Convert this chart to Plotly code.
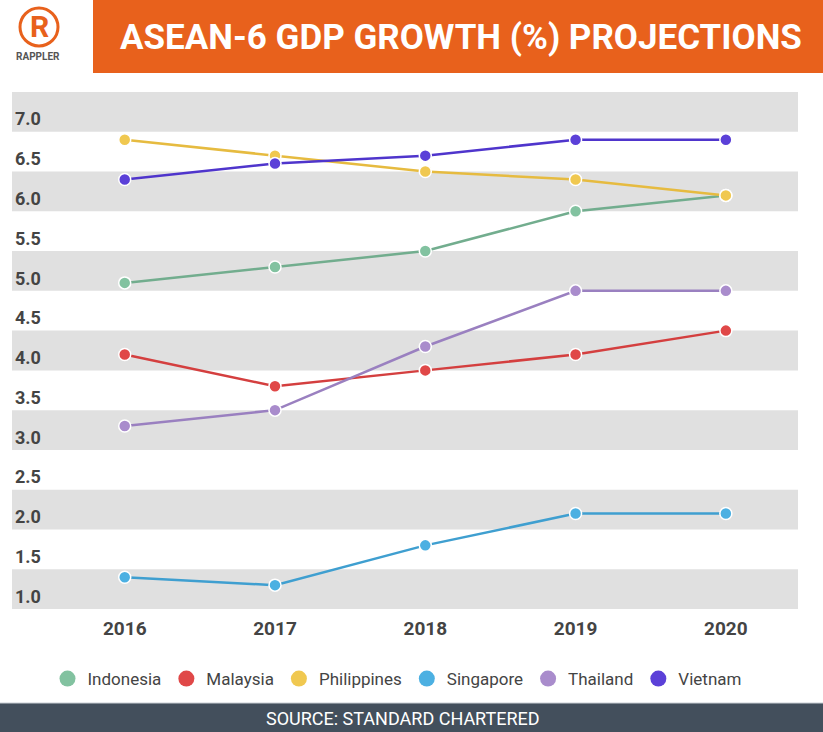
import plotly.graph_objects as go

years = ["2016", "2017", "2018", "2019", "2020"]
indonesia = [5.1, 5.3, 5.5, 6.0, 6.2]
malaysia = [4.2, 3.8, 4.0, 4.2, 4.5]
philippines = [6.9, 6.7, 6.5, 6.4, 6.2]
singapore = [1.4, 1.3, 1.8, 2.2, 2.2]
thailand = [3.3, 3.5, 4.3, 5.0, 5.0]
vietnam = [6.4, 6.6, 6.7, 6.9, 6.9]
y_ticks = [1.0, 1.5, 2.0, 2.5, 3.0, 3.5, 4.0, 4.5, 5.0, 5.5, 6.0, 6.5, 7.0]
y_labels = ["1.0", "1.5", "2.0", "2.5", "3.0", "3.5", "4.0", "4.5", "5.0", "5.5", "6.0", "6.5", "7.0"]

series = [
    ("Indonesia", indonesia, "#82c2a0", "#72ad8e"),
    ("Malaysia", malaysia, "#e04848", "#d43f3f"),
    ("Philippines", philippines, "#f0c850", "#e6bb40"),
    ("Singapore", singapore, "#4cb0e2", "#3f9fd0"),
    ("Thailand", thailand, "#a98ccc", "#9a80c0"),
    ("Vietnam", vietnam, "#5b40d8", "#4f35cc"),
]

W, H = 823, 732
L, R, T, B = 12, 25, 92, 123
PW, PH = W - L - R, H - T - B


def px(x):
    return (x - L) / PW


def py(y):
    return (H - B - y) / PH


fig = go.Figure()
for name, vals, mcol, lcol in series:
    fig.add_trace(go.Scatter(
        x=years, y=vals, mode="lines+markers", name=name, showlegend=False,
        line=dict(color=lcol, width=2.5),
        marker=dict(size=12, color=mcol, line=dict(color="white", width=1.5)),
    ))
for name, vals, mcol, lcol in series:
    fig.add_trace(go.Scatter(
        x=[None], y=[None], mode="markers", name=name, showlegend=True,
        marker=dict(size=18, color=mcol),
    ))

shapes = []
# grey bands
k = 1.0
while k < 7.5:
    shapes.append(dict(type="rect", xref="paper", yref="y", x0=0, x1=1, y0=k, y1=k + 0.5,
                       fillcolor="#e0e0e0", line=dict(width=0), layer="below"))
    k += 1.0
# header orange box
shapes.append(dict(type="rect", xref="paper", yref="paper", x0=px(93), x1=px(823), y0=py(73), y1=py(0),
                   fillcolor="#e8611c", line=dict(width=0)))
# footer bar
shapes.append(dict(type="rect", xref="paper", yref="paper", x0=px(0), x1=px(823), y0=py(732), y1=py(703),
                   fillcolor="#434f5c", line=dict(width=0)))
shapes.append(dict(type="line", xref="paper", yref="paper", x0=px(0), x1=px(823), y0=py(703), y1=py(703),
                   line=dict(color="#c9cfd4", width=1)))
# logo circle
shapes.append(dict(type="circle", xref="paper", yref="paper", x0=px(20), x1=px(58), y0=py(46), y1=py(8),
                   line=dict(color="#e8611c", width=3), fillcolor="rgba(0,0,0,0)"))

annotations = [
    dict(text="<b>ASEAN-6 GDP GROWTH (%) PROJECTIONS</b>", xref="paper", yref="paper",
         x=px(461), y=py(38), xanchor="center", yanchor="middle", showarrow=False,
         font=dict(family="Roboto, sans-serif", size=35, color="white")),
    dict(text="<b>R</b>", xref="paper", yref="paper", x=px(39), y=py(27), xanchor="center", yanchor="middle",
         showarrow=False, font=dict(family="Roboto, sans-serif", size=30, color="#e8611c")),
    dict(text="<b>RAPPLER</b>", xref="paper", yref="paper", x=px(38), y=py(57), xanchor="center", yanchor="middle",
         showarrow=False, font=dict(family="Roboto, sans-serif", size=10, color="#555555")),
    dict(text="SOURCE: STANDARD CHARTERED", xref="paper", yref="paper", x=px(403), y=py(718),
         xanchor="center", yanchor="middle", showarrow=False,
         font=dict(family="Roboto, sans-serif", size=18, color="white")),
]

fig.update_layout(
    width=W, height=H, margin=dict(l=L, r=R, t=T, b=B),
    paper_bgcolor="white", plot_bgcolor="white",
    shapes=shapes, annotations=annotations,
    showlegend=True,
    legend=dict(orientation="h", x=px(397), xanchor="center", y=py(679), yanchor="middle",
                font=dict(family="Roboto, sans-serif", size=17, color="#444444"),
                itemclick=False, itemdoubleclick=False),
    xaxis=dict(type="category", range=[-0.75, 4.48], showgrid=False, zeroline=False, showline=False,
               ticks="", ticklabelstandoff=6,
               tickfont=dict(family="Roboto, sans-serif", size=19, color="#444444", weight="bold")),
    yaxis=dict(range=[1.0, 7.5], tickvals=y_ticks, ticktext=y_labels, showgrid=False, zeroline=False,
               showline=False, ticks="", ticklabelposition="inside top",
               tickfont=dict(family="Roboto, sans-serif", size=18, color="#444444", weight="bold")),
)

fig.write_html("out.html")
